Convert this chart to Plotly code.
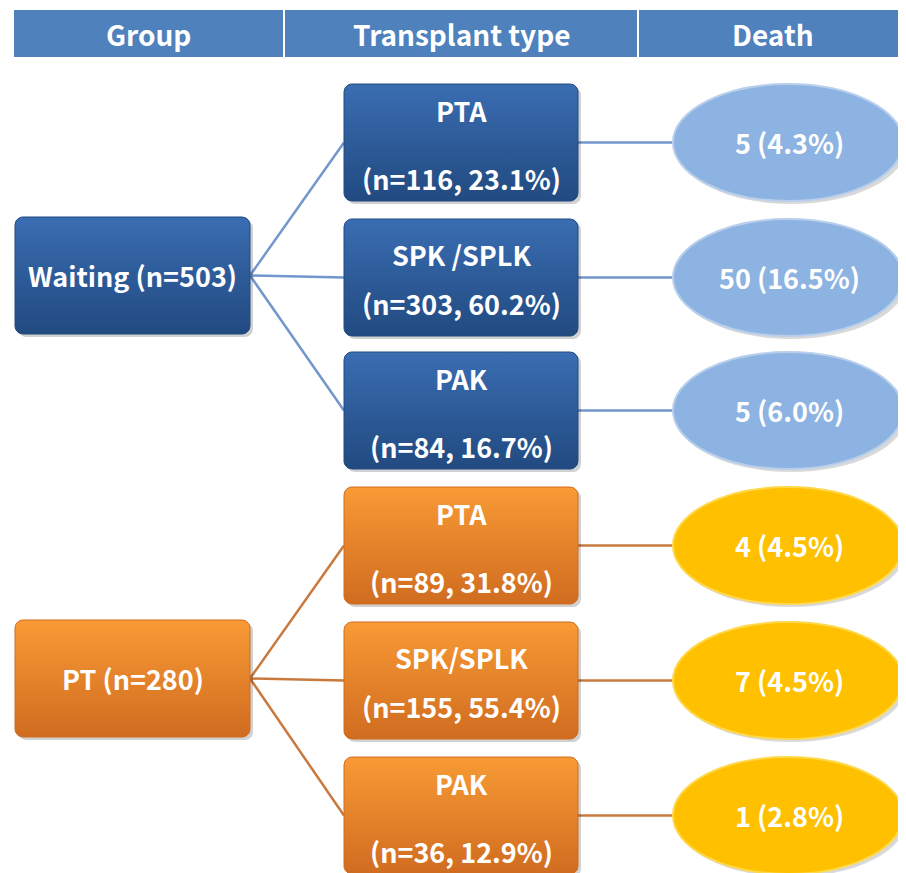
import numpy as np
import plotly.graph_objects as go

# data
headers = ["Group", "Transplant type", "Death"]
groups = ["Waiting", "PT"]
group_n = [503, 280]
types = [["PTA", "SPK /SPLK", "PAK"], ["PTA", "SPK/SPLK", "PAK"]]
type_n = [[116, 303, 84], [89, 155, 36]]
type_pct = [[23.1, 60.2, 16.7], [31.8, 55.4, 12.9]]
deaths = [[5, 50, 5], [4, 7, 1]]
death_pct = [[4.3, 16.5, 6.0], [4.5, 4.5, 2.8]]

FONT = "Noto Sans CJK KR"
W, H = 906, 873
OFF = 8  # page margin of the html body

box_cols = [("#3a6db2", "#214a80"), ("#f89a35", "#d06c20")]
ell_cols = ["#8db3e2", "#ffc000"]
ell_rims = ["#b8cfec", "#ffd84a"]
line_cols = ["#7396cc", "#c87a3e"]

fig = go.Figure()


def rrect(x0, y0, x1, y1, r=8):
    xs, ys = [], []
    for cx, cy, a0 in [(x1 - r, y0 + r, -90), (x1 - r, y1 - r, 0), (x0 + r, y1 - r, 90), (x0 + r, y0 + r, 180)]:
        t = np.radians(np.linspace(a0, a0 + 90, 8))
        xs += list(cx + r * np.cos(t))
        ys += list(cy + r * np.sin(t))
    return xs + [xs[0]], ys + [ys[0]]


def box(x0, y0, x1, y1, c_top, c_bot):
    xs, ys = rrect(x0 + 3, y0 + 3, x1 + 3, y1 + 3)
    fig.add_trace(go.Scatter(x=xs, y=ys, fill="toself", fillcolor="rgba(0,0,0,0.18)",
                             mode="lines", line=dict(width=0), hoverinfo="skip"))
    xs, ys = rrect(x0, y0, x1, y1)
    fig.add_trace(go.Scatter(x=xs, y=ys, fill="toself",
                             fillgradient=dict(type="vertical", colorscale=[[0, c_bot], [1, c_top]]),
                             mode="lines", line=dict(width=1, color=c_bot), hoverinfo="skip"))


def text(x, y, s, size=27):
    fig.add_annotation(x=x, y=y, text="<b>" + s + "</b>", showarrow=False,
                       font=dict(family=FONT, size=size, color="white"))


# header row
hx = [(14, 283), (285, 637), (639, 906)]
for (a, b), h in zip(hx, headers):
    fig.add_shape(type="rect", x0=a, x1=b, y0=10, y1=57, fillcolor="#4f81bd", line=dict(width=0))
    text((a + b) / 2, 34, h, 28)

gx0, gx1 = 15, 250
tx0, tx1 = 344, 578
ex0, ex1 = 673, 905
group_top = [217, 620]
type_top = [[84, 219, 352], [487, 622, 757]]
bh = 117

for g in range(2):
    gy = group_top[g] + bh / 2
    for k in range(3):
        ty = type_top[g][k] + bh / 2
        fig.add_trace(go.Scatter(x=[gx1, tx0], y=[gy, ty], mode="lines",
                                 line=dict(color=line_cols[g], width=2.5), hoverinfo="skip"))
        fig.add_trace(go.Scatter(x=[tx1, ex0 + 5], y=[ty, ty], mode="lines",
                                 line=dict(color=line_cols[g], width=2.5), hoverinfo="skip"))
    box(gx0, group_top[g], gx1, group_top[g] + bh, *box_cols[g])
    text((gx0 + gx1) / 2, gy, f"{groups[g]} (n={group_n[g]})")
    for k in range(3):
        t0 = type_top[g][k]
        box(tx0, t0, tx1, t0 + bh, *box_cols[g])
        spk = "SPK" in types[g][k]
        text((tx0 + tx1) / 2, t0 + (35 if spk else 26), types[g][k])
        text((tx0 + tx1) / 2, t0 + bh - (33 if spk else 23), f"(n={type_n[g][k]}, {type_pct[g][k]}%)")
        # death ellipse
        fig.add_shape(type="circle", x0=ex0 + 2, x1=ex1 + 2, y0=t0 + 3, y1=t0 + bh + 3,
                      fillcolor="rgba(0,0,0,0.15)", line=dict(width=0))
        fig.add_shape(type="circle", x0=ex0, x1=ex1 - 2, y0=t0, y1=t0 + bh,
                      fillcolor=ell_cols[g], line=dict(color=ell_rims[g], width=2))
        text((ex0 + ex1) / 2, t0 + bh / 2, f"{deaths[g][k]} ({death_pct[g][k]}%)")

fig.update_xaxes(range=[OFF, W], visible=False, fixedrange=True)
fig.update_yaxes(range=[H, OFF], visible=False, fixedrange=True)
fig.update_layout(width=W - OFF, height=H - OFF, margin=dict(l=0, r=0, t=0, b=0),
                  plot_bgcolor="white", paper_bgcolor="white", showlegend=False)
fig.write_html("out.html")
